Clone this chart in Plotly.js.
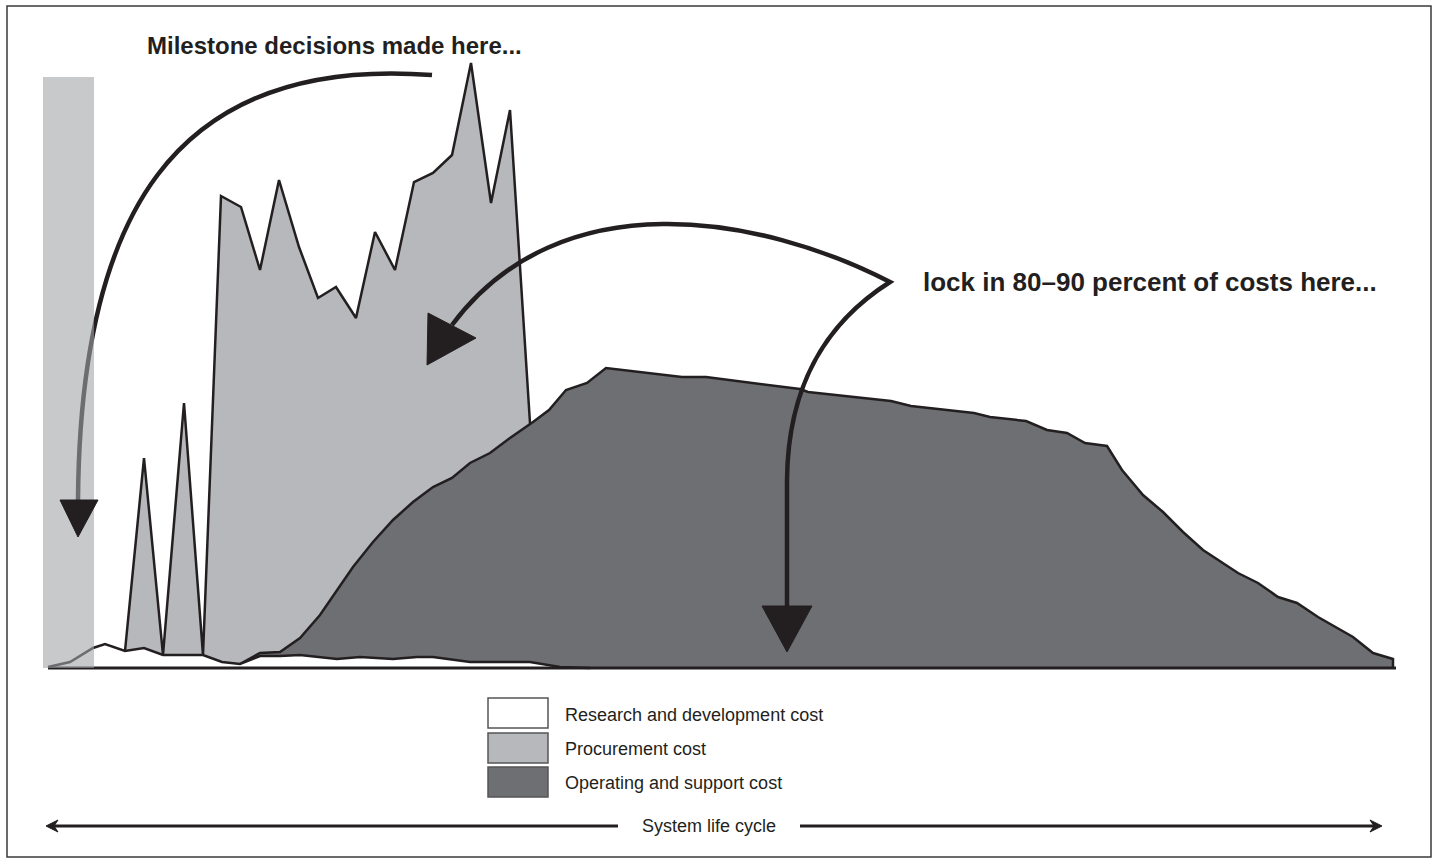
<!DOCTYPE html>
<html>
<head>
<meta charset="utf-8">
<script src="https://cdn.plot.ly/plotly-3.0.1.min.js"></script>
<style>html,body{margin:0;padding:0;background:#fff;}#chart{width:1439px;height:859px;}</style>
</head>
<body>
<div id="chart"></div>
<script>
// ---- Data (x = position along the system life cycle, y = cost level) ----
const rdX = [48, 70, 93, 105, 125, 144, 163, 203, 222, 240, 260, 280, 300, 337, 360, 393, 417, 433, 470, 530, 560, 590];
const rdY = [1, 6, 20, 24, 17, 20, 13, 13, 6, 4, 12, 12, 13, 9, 11, 9, 11, 11, 6, 6, 1, 0];

const procX = [125, 144, 163, 184, 203, 221, 241, 260, 279, 299, 318, 336, 356, 375, 395, 414, 433, 452, 471, 491, 510, 530, 534];
const procY = [17, 210, 13, 265, 13, 472, 461, 398, 488, 421, 370, 381, 350, 436, 398, 486, 495, 513, 605, 465, 558, 245, 0];

const osX = [240, 260, 280, 300, 320, 337, 353, 373, 393, 413, 433, 452, 470, 490, 510, 533, 549, 566, 587, 606, 682, 706, 800, 808, 891, 911, 974, 990, 1026, 1047, 1067, 1085, 1107, 1122, 1143, 1163, 1183, 1203, 1238, 1258, 1278, 1297, 1318, 1353, 1373, 1393, 1393];
const osY = [4, 15, 16, 30, 53, 78, 101, 126, 148, 166, 181, 190, 205, 215, 230, 246, 258, 278, 285, 300, 291, 291, 279, 276, 267, 262, 255, 251, 247, 238, 235, 225, 222, 198, 173, 156, 136, 118, 95, 85, 71, 65, 51, 31, 15, 9, 0];

const legendLabels = ["Research and development cost", "Procurement cost", "Operating and support cost"];
const legendFills = ["#ffffff", "#b7b8bb", "#6e6f73"];
const titleLeft = "Milestone decisions made here...";
const titleRight = "lock in 80–90 percent of costs here...";
const axisLabel = "System life cycle";

const INK = "#231f20";
const FONT = "Liberation Sans, Arial, Helvetica, sans-serif";

const traces = [
  {x: procX, y: procY, type: "scatter", mode: "lines", fill: "tozeroy",
   fillcolor: legendFills[1], line: {color: INK, width: 2.5}, name: legendLabels[1]},
  {x: osX, y: osY, type: "scatter", mode: "lines", fill: "tozeroy",
   fillcolor: legendFills[2], line: {color: INK, width: 2.5}, name: legendLabels[2]},
  {x: rdX, y: rdY, type: "scatter", mode: "lines", fill: "tozeroy",
   fillcolor: legendFills[0], line: {color: INK, width: 2.5}, name: legendLabels[0]}
];

const shapes = [
  // baseline
  {type: "line", x0: 48, x1: 1396, y0: 0, y1: 0, line: {color: INK, width: 3}},
  // milestone arrow shaft
  {type: "path", path: "M432,593 C170,613 80,448 78,168", line: {color: INK, width: 4.5}},
  // translucent milestone bar
  {type: "rect", x0: 43, x1: 94, y0: 0, y1: 591, fillcolor: "rgb(162,163,166)", opacity: 0.59, line: {width: 0}},
  // milestone arrow head
  {type: "path", path: "M60,168 L98,168 L78,131 Z", fillcolor: INK, line: {color: INK, width: 1}},
  // lock-in arrows
  {type: "path", path: "M452,343 C560,488 760,453 890,386 C830,348 788,288 787,188 L787,62", line: {color: INK, width: 4.5}},
  {type: "path", path: "M428,355 L476,330 L427,303 Z", fillcolor: INK, line: {color: INK, width: 1}},
  {type: "path", path: "M762,62 L812,62 L787,16 Z", fillcolor: INK, line: {color: INK, width: 1}},
  // system life cycle arrow
  {type: "line", x0: 52, x1: 618, y0: -158, y1: -158, line: {color: INK, width: 3}},
  {type: "line", x0: 800, x1: 1376, y0: -158, y1: -158, line: {color: INK, width: 3}},
  {type: "path", path: "M46,-158 L58,-152 L54,-158 L58,-164 Z", fillcolor: INK, line: {color: INK, width: 1}},
  {type: "path", path: "M1382,-158 L1370,-152 L1374,-158 L1370,-164 Z", fillcolor: INK, line: {color: INK, width: 1}},
  // outer frame
  {type: "rect", x0: 7, x1: 1431, y0: -189, y1: 662, line: {color: "#3a3a3a", width: 1.5}}
];

const legendRows = [[-30, -60, -47], [-65, -95, -81], [-99, -129, -115]];
const annotations = [
  {x: 145, y: 623, xanchor: "left", yanchor: "middle", showarrow: false,
   text: "<b>" + titleLeft + "</b>", font: {family: FONT, size: 24, color: INK}},
  {x: 921, y: 386, xanchor: "left", yanchor: "middle", showarrow: false,
   text: "<b>" + titleRight + "</b>", font: {family: FONT, size: 26, color: INK}},
  {x: 709, y: -158, xanchor: "center", yanchor: "middle", showarrow: false,
   text: axisLabel, font: {family: FONT, size: 18, color: INK}}
];
legendLabels.forEach((lab, i) => {
  const r = legendRows[i];
  shapes.push({type: "rect", x0: 488, x1: 548, y0: r[1], y1: r[0], fillcolor: legendFills[i],
               line: {color: "#555555", width: 1.5}});
  annotations.push({x: 563, y: r[2], xanchor: "left", yanchor: "middle", showarrow: false,
                    text: lab, font: {family: FONT, size: 18, color: INK}});
});

const layout = {
  width: 1439, height: 859, autosize: false,
  margin: {l: 0, r: 0, t: 0, b: 0, pad: 0},
  paper_bgcolor: "#ffffff", plot_bgcolor: "#ffffff",
  showlegend: false, hovermode: false,
  xaxis: {range: [0, 1439], visible: false, fixedrange: true},
  yaxis: {range: [-191, 668], visible: false, fixedrange: true},
  shapes: shapes, annotations: annotations
};

Plotly.newPlot("chart", traces, layout, {staticPlot: true, displayModeBar: false});
</script>
</body>
</html>
